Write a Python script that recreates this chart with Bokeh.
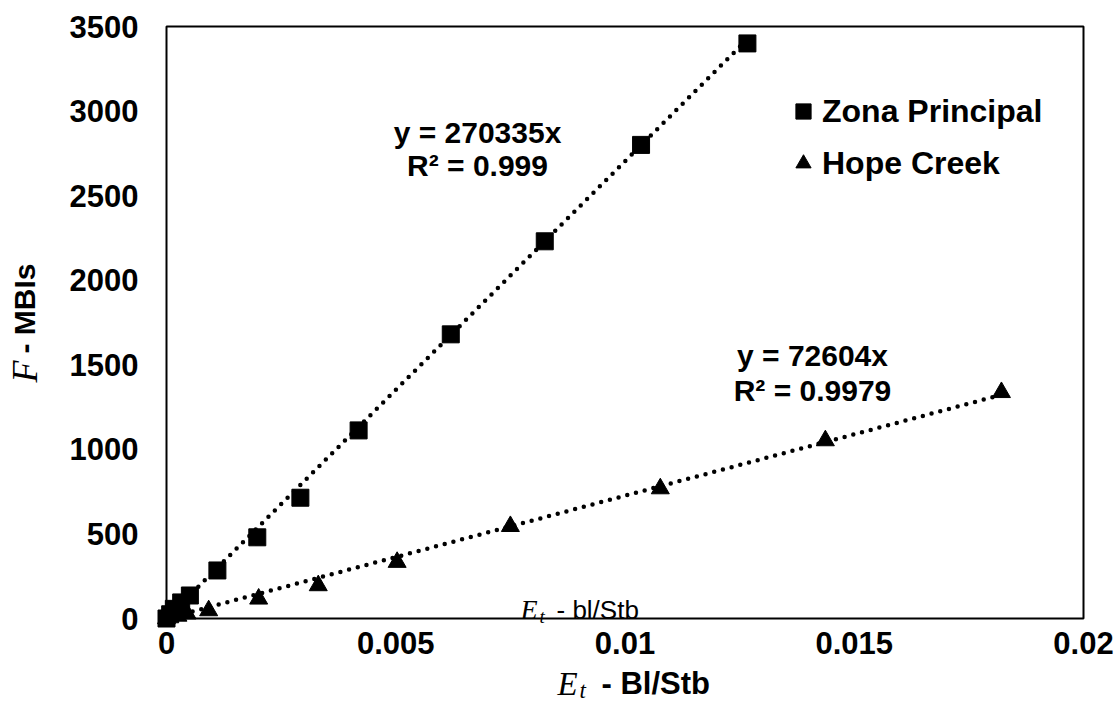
from math import pi
from bokeh.plotting import figure
from bokeh.models import Range1d, FixedTicker, Label, Legend, LegendItem, ColumnDataSource, BoxAnnotation
from bokeh.embed import file_html
from bokeh.resources import INLINE

# ---- data ----
zona_x = [0.0, 0.00008, 0.00016, 0.00032, 0.00051, 0.00111, 0.00198, 0.00292, 0.00419, 0.0062, 0.00825, 0.01035, 0.01267]
zona_y = [0, 25, 57, 95, 136, 284, 480, 714, 1112, 1680, 2230, 2800, 3400]
hope_x = [0.0, 0.00025, 0.00045, 0.00092, 0.00201, 0.00331, 0.00503, 0.0075, 0.01077, 0.01437, 0.01821]
hope_y = [0, 15, 28, 47, 116, 195, 333, 545, 768, 1052, 1337]
zona_slope = 270335
zona_r2 = "0.999"
hope_slope = 72604
hope_r2 = "0.9979"
series_names = ["Zona Principal", "Hope Creek"]
x_ticks = [0, 0.005, 0.01, 0.015, 0.02]
x_tick_labels = ["0", "0.005", "0.01", "0.015", "0.02"]
y_ticks = [0, 500, 1000, 1500, 2000, 2500, 3000, 3500]

SANS = "Liberation Sans"
SERIF = "Liberation Serif"

# ---- layout: canvas size and pixel box of the chart area ----
W, H = 1120, 719
BL, BR, BT, BB = 166, 1083, 26, 618
x0, x1 = x_ticks[0], x_ticks[-1]
y0, y1 = y_ticks[0], y_ticks[-1]
xs = (x1 - x0) / (BR - BL)
ys = (y1 - y0) / (BB - BT)

p = figure(width=W, height=H, output_backend="svg", toolbar_location=None, min_border=0,
           x_range=Range1d(x0 - BL * xs, x0 + (W - BL) * xs),
           y_range=Range1d(y0 - (H - BB) * ys, y1 + BT * ys))
p.xgrid.visible = False
p.ygrid.visible = False
p.outline_line_color = None
p.background_fill_color = "white"
p.border_fill_color = "white"

for ax in (p.xaxis[0], p.yaxis[0]):
    ax.fixed_location = 0
    ax.axis_line_color = None
    ax.major_tick_line_color = None
    ax.minor_tick_line_color = None
    ax.major_tick_in = 0
    ax.major_tick_out = 0
    ax.minor_tick_in = 0
    ax.minor_tick_out = 0
    ax.major_label_text_font = SANS
    ax.major_label_text_font_style = "bold"
    ax.major_label_text_font_size = "31px"
    ax.major_label_text_color = "black"

p.xaxis.ticker = FixedTicker(ticks=x_ticks)
p.xaxis.major_label_overrides = {t: l for t, l in zip(x_ticks, x_tick_labels)}
p.xaxis.major_label_standoff = 13
p.yaxis.ticker = FixedTicker(ticks=y_ticks)
p.yaxis.major_label_standoff = 28

# chart box
p.add_layout(BoxAnnotation(left=x0, right=x1, bottom=y0, top=y1, fill_alpha=0,
                           line_color="black", line_alpha=1, line_width=2, level="underlay"))

# trendlines (through origin, up to last point)
zl = ColumnDataSource(dict(x=[0, zona_x[-1]], y=[0, zona_slope * zona_x[-1]]))
hl = ColumnDataSource(dict(x=[0, hope_x[-1]], y=[0, hope_slope * hope_x[-1]]))
p.line("x", "y", source=zl, line_color="black", line_width=4.5, line_dash="0 9", line_cap="round")
p.line("x", "y", source=hl, line_color="black", line_width=4.5, line_dash="0 9", line_cap="round")

r_zona = p.scatter(zona_x, zona_y, marker="square", size=17, fill_color="black", line_color="black")
r_hope = p.scatter(hope_x, hope_y, marker="triangle", size=18, fill_color="black", line_color="black")

legend = Legend(items=[LegendItem(label=series_names[0], renderers=[r_zona]),
                       LegendItem(label=series_names[1], renderers=[r_hope])],
                location=(784, 537), padding=0, margin=0, spacing=14,
                glyph_width=38, glyph_height=38, label_standoff=0,
                border_line_color=None, background_fill_alpha=0,
                label_text_font=SANS, label_text_font_style="bold", label_text_font_size="32px",
                label_text_color="black")
p.add_layout(legend)

def lab(x, y, text, size, font=SANS, style="bold", align="left", angle=0):
    p.add_layout(Label(x=x, y=y, x_units="screen", y_units="screen", text=text,
                       text_font=font, text_font_style=style, text_font_size=size,
                       text_align=align, text_baseline="alphabetic", angle=angle, text_color="black"))

# trendline equations
lab(477, 587, f"y = {zona_slope}x", "30px", align="center")
lab(477, 554, f"R\u00b2 = {zona_r2}", "30px", align="center")
lab(812, 364, f"y = {hope_slope}x", "30px", align="center")
lab(812, 329, f"R\u00b2 = {hope_r2}", "30px", align="center")

# x-axis title
lab(557, 36, "E", "33px", font=SERIF, style="italic")
lab(579, 29, "t", "23px", font=SERIF, style="italic")
lab(601, 36, "- Bl/Stb", "31px")

# stray label near bottom axis
lab(520, 110, "E", "28px", font=SERIF, style="italic")
lab(539, 103, "t", "19px", font=SERIF, style="italic")
lab(556, 110, "- bl/Stb", "26px", style="normal")

# y-axis title (rotated)
lab(24, 337, "F", "36px", font=SERIF, style="italic", angle=pi / 2)
lab(24, 366, "- MBIs", "30px", angle=pi / 2)

open("out.html", "w").write(file_html(p, INLINE))
